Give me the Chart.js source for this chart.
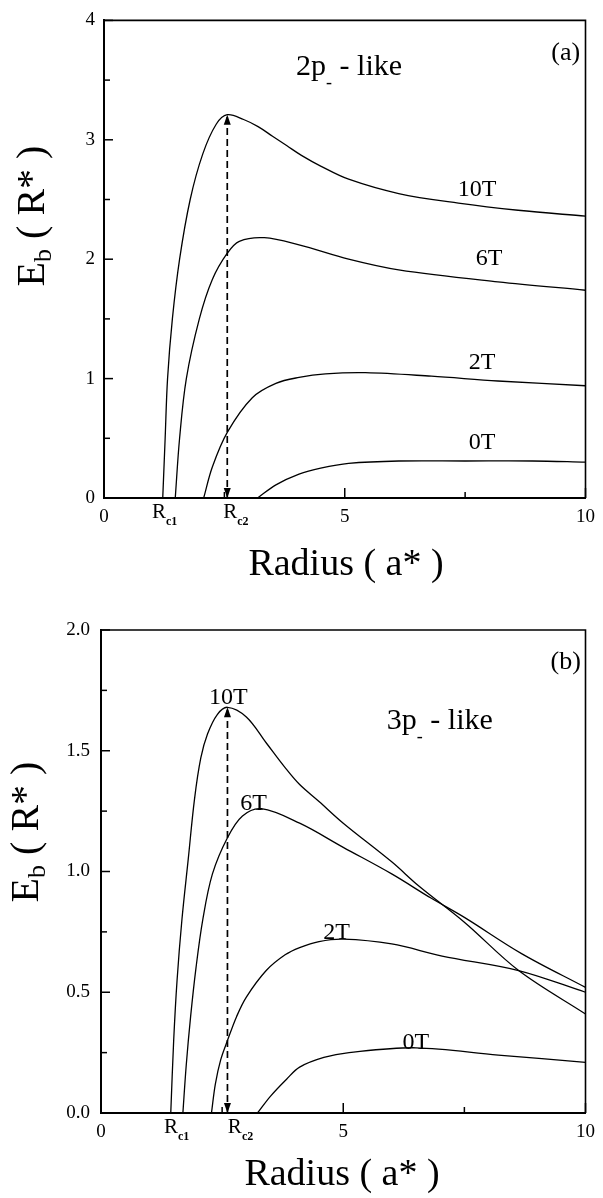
<!DOCTYPE html>
<html><head><meta charset="utf-8">
<script src="https://cdn.jsdelivr.net/npm/chart.js@4.4.1/dist/chart.umd.min.js"></script>
<style>body{margin:0;background:#fff}canvas{display:block}</style>
</head><body>
<canvas id="chartA" width="603" height="600"></canvas>
<canvas id="chartB" width="603" height="598"></canvas>
<script>
// ticks shared by both panels
const xMajor=[0,5,10];
const xMinor=[2.5,7.5];
const yMajorA=[0,1,2,3,4];
const yMinorA=[0.5,1.5,2.5,3.5];
const yMajorB=[0,0.5,1,1.5,2];
const yMinorB=[0.25,0.75,1.25,1.75];

// (a) 2p- like : binding energy vs radius
const fieldNames=['10T','6T','2T','0T'];
const a10x=[1.22,1.27,1.32,1.42,1.57,1.79,2.05,2.33,2.56,2.90,3.20,3.50,3.80,4.10,4.50,5.08,6.12,7.36,8.60,10];
const a10y=[0,0.5,1.0,1.5,2.0,2.5,2.88,3.13,3.21,3.17,3.11,3.03,2.95,2.87,2.78,2.67,2.55,2.47,2.41,2.36];
const a6x=[1.48,1.57,1.71,1.98,2.25,2.56,2.81,3.33,4.05,5.08,6.12,8.18,10];
const a6y=[0,0.5,1.0,1.5,1.83,2.05,2.15,2.18,2.12,2.0,1.91,1.81,1.74];
const a2x=[2.07,2.25,2.56,3.08,3.57,4.05,4.6,5.43,6.8,8.18,10];
const a2y=[0,0.26,0.55,0.84,0.96,1.01,1.04,1.05,1.02,0.98,0.94];
const a0x=[3.19,3.57,4.05,4.5,5.08,6.12,7.5,8.9,10];
const a0y=[0,0.11,0.20,0.25,0.29,0.31,0.31,0.31,0.30];

// (b) 3p- like
const b10x=[1.44,1.50,1.57,1.67,1.80,1.93,2.06,2.20,2.40,2.61,3.0,3.42,3.80,4.1,4.5,5.0,6.0,6.56,7.5,8.62,10];
const b10y=[0,0.30,0.55,0.80,1.05,1.30,1.47,1.57,1.65,1.68,1.64,1.53,1.43,1.36,1.29,1.20,1.04,0.94,0.79,0.59,0.41];
const b6x=[1.69,1.76,1.85,1.96,2.10,2.30,2.61,2.92,3.31,4.1,5.0,6.0,6.81,7.5,8.68,10];
const b6y=[0,0.20,0.40,0.60,0.80,0.99,1.14,1.23,1.26,1.20,1.10,0.99,0.89,0.81,0.66,0.52];
const b2x=[2.28,2.36,2.47,2.61,2.80,3.0,3.41,3.80,4.1,4.5,5.0,6.0,7.04,8.62,10];
const b2y=[0,0.12,0.22,0.30,0.40,0.48,0.59,0.655,0.685,0.71,0.72,0.70,0.65,0.59,0.50];
const b0x=[3.23,3.50,3.83,4.1,4.6,5.12,6.5,8.2,10];
const b0y=[0,0.07,0.14,0.19,0.23,0.25,0.27,0.24,0.21];

const FONT='"Liberation Serif", "Times New Roman", serif';

function drawParts(ctx,parts,x,y,align){
  let w=0;
  parts.forEach(p=>{ctx.font=`${p.bold?'bold ':''}${p.size}px ${FONT}`;p.w=ctx.measureText(p.t).width;w+=p.w});
  let cx=align==='center'?x-w/2:x;
  parts.forEach(p=>{ctx.font=`${p.bold?'bold ':''}${p.size}px ${FONT}`;ctx.fillText(p.t,cx,y+(p.dy||0));cx+=p.w});
}

const decor={
  id:'decor',
  afterDraw(chart,args,o){
    const {ctx,chartArea:a,scales:{x,y}}=chart;
    ctx.save();
    ctx.strokeStyle='#000';ctx.fillStyle='#000';
    // top + right frame
    ctx.lineWidth=1.6;
    ctx.beginPath();ctx.moveTo(a.left,a.top);ctx.lineTo(a.right,a.top);ctx.lineTo(a.right,a.bottom);ctx.stroke();
    // inward ticks
    ctx.lineWidth=1.5;
    const tk=(x1,y1,x2,y2)=>{ctx.beginPath();ctx.moveTo(x1,y1);ctx.lineTo(x2,y2);ctx.stroke()};
    xMajor.forEach(v=>{const p=x.getPixelForValue(v);tk(p,a.bottom,p,a.bottom-10)});
    xMinor.forEach(v=>{const p=x.getPixelForValue(v);tk(p,a.bottom,p,a.bottom-6)});
    o.yMajor.forEach(v=>{const p=y.getPixelForValue(v);tk(a.left,p,a.left+9,p)});
    o.yMinor.forEach(v=>{const p=y.getPixelForValue(v);tk(a.left,p,a.left+6,p)});
    // arrowheads on the Rc2 dashed line
    const ax=x.getPixelForValue(o.rc2),top=y.getPixelForValue(o.peak),bot=y.getPixelForValue(0);
    ctx.beginPath();ctx.moveTo(ax,top);ctx.lineTo(ax-3.5,top+10);ctx.lineTo(ax+3.5,top+10);ctx.closePath();ctx.fill();
    ctx.beginPath();ctx.moveTo(ax,bot);ctx.lineTo(ax-3.5,bot-10);ctx.lineTo(ax+3.5,bot-10);ctx.closePath();ctx.fill();
    // Rc labels under the axis
    ctx.textBaseline='alphabetic';
    o.rcLabels.forEach(r=>{
      drawParts(ctx,[{t:'R',size:21},{t:r.sub,size:12,dy:7,bold:true}],x.getPixelForValue(r.x),a.bottom+20,'center');
    });
    // curve labels
    ctx.textBaseline='middle';
    o.curveLabels.forEach((l,i)=>{
      drawParts(ctx,[{t:fieldNames[i],size:24}],x.getPixelForValue(l.x),y.getPixelForValue(l.y),'center');
    });
    ctx.textBaseline='alphabetic';
    drawParts(ctx,[{t:o.state[0],size:30},{t:'-',size:18,dy:13},{t:' - like',size:30}],x.getPixelForValue(o.stateAt[0]),y.getPixelForValue(o.stateAt[1]),'left');
    drawParts(ctx,[{t:o.panel,size:26}],x.getPixelForValue(9.59),y.getPixelForValue(o.panelY),'center');
    // axis titles
    drawParts(ctx,[{t:'Radius ( a* )',size:38}],o.xTitle[0],o.xTitle[1],'center');
    ctx.translate(o.yTitle[0],o.yTitle[1]);ctx.rotate(-Math.PI/2);
    ctx.textBaseline='middle';
    drawParts(ctx,[{t:'E',size:40},{t:'b',size:26,dy:11},{t:' ( R* )',size:40}],0,0,'center');
    ctx.restore();
  }
};

function makeChart(id,series,yMax,yFmt,box,deco){
  const sets=series.map(s=>({data:s[0].map((v,i)=>({x:v,y:s[1][i]})),showLine:true,borderColor:'#000',borderWidth:1.3,pointRadius:0,tension:0.35,fill:false}));
  // dashed Rc2 marker from the 10T peak down to the axis
  const peak=Math.max(...series[0][1]);
  const rc2=series[0][0][series[0][1].indexOf(peak)];
  deco.peak=peak;deco.rc2=rc2;
  sets.push({data:[{x:rc2,y:0},{x:rc2,y:peak}],showLine:true,borderColor:'#000',borderWidth:1.7,borderDash:[7,4],pointRadius:0});
  return new Chart(document.getElementById(id),{
    type:'scatter',
    data:{datasets:sets},
    options:{responsive:false,animation:false,devicePixelRatio:1,
      layout:{padding:{left:0,top:box.top,right:box.right,bottom:0}},
      plugins:{legend:{display:false},tooltip:{enabled:false},decor:deco},
      scales:{
        x:{type:'linear',min:0,max:10,
          afterBuildTicks:s=>{s.ticks=xMajor.map(v=>({value:v}))},
          afterFit:s=>{s.height=box.xh},
          grid:{display:false,drawTicks:false},border:{display:true,color:'#000',width:2},
          ticks:{color:'#000',font:{family:FONT,size:19},padding:8,maxRotation:0}},
        y:{type:'linear',min:0,max:yMax,
          afterBuildTicks:s=>{s.ticks=deco.yMajor.map(v=>({value:v}))},
          afterFit:s=>{s.width=box.yw},
          grid:{display:false,drawTicks:false},border:{display:true,color:'#000',width:2},
          ticks:{color:'#000',font:{family:FONT,size:19},padding:box.yp,callback:yFmt}}
      }},
    plugins:[decor]
  });
}

makeChart('chartA',[[a10x,a10y],[a6x,a6y],[a2x,a2y],[a0x,a0y]],4,v=>String(v),
  {top:15,right:15,xh:102,yw:104,yp:9},
  {yMajor:yMajorA,yMinor:yMinorA,
   rcLabels:[{x:1.26,sub:'c1'},{x:2.74,sub:'c2'}],
   curveLabels:[{x:7.75,y:2.58},{x:8.0,y:2.0},{x:7.85,y:1.13},{x:7.85,y:0.46}],
   state:['2p'],stateAt:[3.99,3.54],panel:'(a)',panelY:3.67,
   xTitle:[346,575],yTitle:[33,216]});

makeChart('chartB',[[b10x,b10y],[b6x,b6y],[b2x,b2y],[b0x,b0y]],2,v=>v.toFixed(1),
  {top:30,right:16,xh:85,yw:101,yp:11},
  {yMajor:yMajorB,yMinor:yMinorB,
   rcLabels:[{x:1.56,sub:'c1'},{x:2.88,sub:'c2'}],
   curveLabels:[{x:2.63,y:1.72},{x:3.15,y:1.28},{x:4.86,y:0.745},{x:6.5,y:0.29}],
   state:['3p'],stateAt:[5.9,1.59],panel:'(b)',panelY:1.84,
   xTitle:[342,585],yTitle:[27,232]});
</script>
</body></html>
